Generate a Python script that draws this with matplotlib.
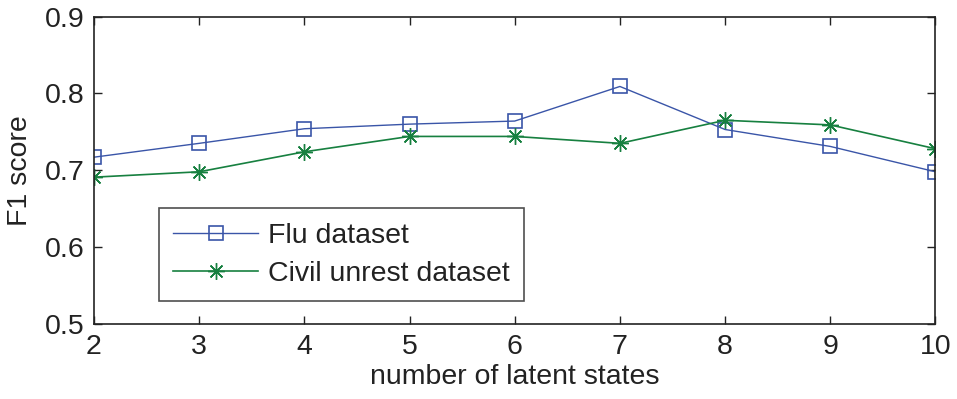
import matplotlib
matplotlib.use("Agg")
import matplotlib.pyplot as plt

states = [2, 3, 4, 5, 6, 7, 8, 9, 10]
flu = [0.717, 0.735, 0.754, 0.760, 0.764, 0.809, 0.753, 0.731, 0.698]
civil = [0.691, 0.698, 0.724, 0.744, 0.744, 0.735, 0.765, 0.759, 0.728]
xticks = [2, 3, 4, 5, 6, 7, 8, 9, 10]
yticks = [0.5, 0.6, 0.7, 0.8, 0.9]

plt.rcParams['font.family'] = ['Liberation Sans', 'DejaVu Sans']
txt = '#222222'

fig = plt.figure(figsize=(9.57, 3.99), dpi=100)
ax = fig.add_axes([0.0982, 0.188, 0.8793, 0.7706])

ax.plot(states, flu, color='#3A55A8', lw=1.0, marker='s', ms=9.5,
        mfc='none', mec='#3A55A8', mew=1.2, label='Flu dataset')
ax.plot(states, civil, color='#178040', lw=1.2, marker=(8, 2, 0), ms=12,
        mec='#178040', mew=1.0, label='Civil unrest dataset')

ax.set_xlim(2, 10)
ax.set_ylim(0.5, 0.9)
ax.set_xticks(xticks)
ax.set_yticks(yticks)
ax.set_yticklabels([f"{v:.1f}" for v in yticks])
ax.tick_params(direction='in', top=True, right=True, length=6, width=1.0,
               labelsize=20.5, pad=7, colors=txt, labelcolor=txt)
for s in ax.spines.values():
    s.set_linewidth(1.2)
    s.set_color(txt)

ax.set_xlabel('number of latent states', fontsize=20.5, labelpad=3, color=txt)
ax.set_ylabel('F1 score', fontsize=20.5, labelpad=8, color=txt)

leg = ax.legend(loc='upper left', bbox_to_anchor=(0.077, 0.376), fontsize=20.5,
                frameon=True, fancybox=False, edgecolor=txt,
                handlelength=3.0, borderpad=0.5, labelspacing=0.42,
                handletextpad=0.32, borderaxespad=0)
leg.get_frame().set_linewidth(1.2)
for t in leg.get_texts():
    t.set_color(txt)

fig.savefig('out.png', dpi=100)
